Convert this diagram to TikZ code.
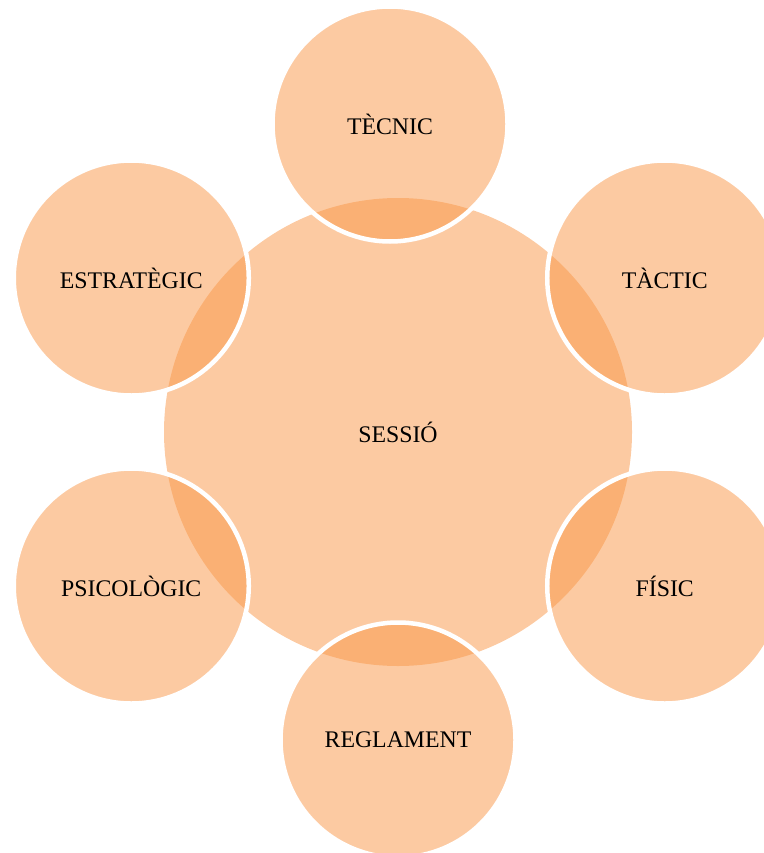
\documentclass[tikz,border=0pt]{standalone}
\usepackage{fontspec}
\setmainfont{Liberation Serif}
\usepackage{tikz}
\definecolor{accentorange}{HTML}{F99646}

\begin{document}
\begin{tikzpicture}[x=1pt,y=-1pt,
    bubble/.style={circle,fill=accentorange,fill opacity=.5,text opacity=1,
      inner sep=0pt,font=\fontsize{23.8}{28}\selectfont},
    petal/.style={bubble,minimum size=235pt,draw=white,draw opacity=1,line width=4.5pt}]
    \useasboundingbox (0,0) rectangle (763,853);

    % the hub first, so the white rims of the petals lie on top of it
    \node[bubble,minimum size=468pt] (sessio) at (398,432) {SESSIÓ};

    % petals round the hub, 308 from its centre
    \node[petal] (tecnic) at (390,124) {TÈCNIC};
    \foreach \name/\ang/\txt in {tactic/30/TÀCTIC,fisic/-30/FÍSIC,reglament/-90/REGLAMENT,
        psicologic/-150/PSICOLÒGIC,estrategic/150/ESTRATÈGIC}
      \node[petal] (\name) at ({398+308*cos(\ang)},{432-308*sin(\ang)}) {\txt};
  \end{tikzpicture}
\end{document}
